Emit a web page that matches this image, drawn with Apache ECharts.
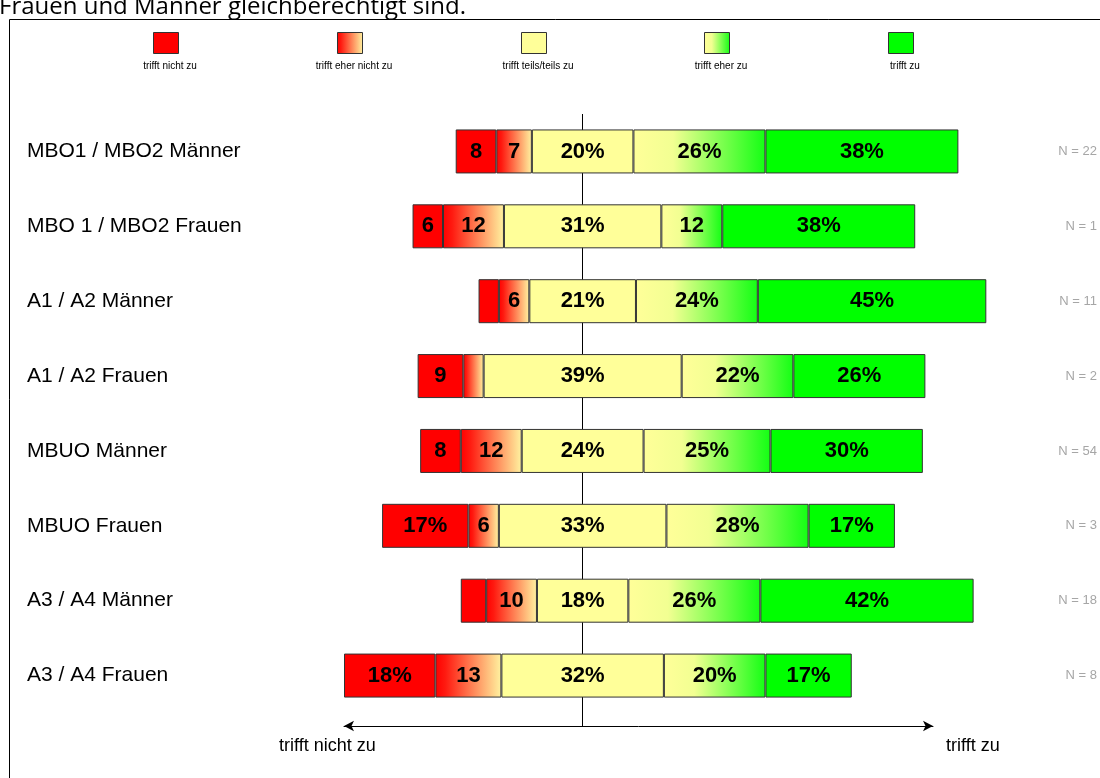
<!DOCTYPE html>
<html>
<head>
<meta charset="utf-8">
<script src="https://cdn.jsdelivr.net/npm/echarts@6/dist/echarts.min.js"></script>
<style>
html,body{margin:0;padding:0;background:#fff;}
#chart{width:1100px;height:778px;}
</style>
</head>
<body>
<div id="chart"></div>
<script>
// ---- data ----
const categories = ['MBO1 / MBO2 Männer','MBO 1 / MBO2 Frauen','A1 / A2 Männer','A1 / A2 Frauen','MBUO Männer','MBUO Frauen','A3 / A4 Männer','A3 / A4 Frauen'];
const trifftNicht = [8, 6, 4, 9, 8, 17, 5, 18];
const eherNicht   = [7, 12, 6, 4, 12, 6, 10, 13];
const teils       = [20, 31, 21, 39, 24, 33, 18, 32];
const eherZu      = [26, 12, 24, 22, 25, 28, 26, 20];
const trifftZu    = [38, 38, 45, 26, 30, 17, 42, 17];
const nValues     = [22, 1, 11, 2, 54, 3, 18, 8];
const seriesNames = ['trifft nicht zu','trifft eher nicht zu','trifft teils/teils zu','trifft eher zu','trifft zu'];
const axisEndLabels = ['trifft nicht zu','trifft zu'];
const chartTitle = 'Frauen und Männer gleichberechtigt sind.';

// ---- layout ----
const CENTER = 47;      // axis value where the neutral midpoint sits
const X_MAX = 116;
const G = echarts.graphic;
const colors = [
  '#FF0000',
  new G.LinearGradient(0,0,1,0,[{offset:0,color:'#FF0000'},{offset:0.15,color:'#FF1A10'},{offset:1,color:'#FFF3A0'}]),
  '#FFFF99',
  new G.LinearGradient(0,0,1,0,[{offset:0,color:'#FFFF99'},{offset:0.3,color:'#F2FF92'},{offset:1,color:'#14FF14'}]),
  '#00FF00'
];
const valueSets = [trifftNicht, eherNicht, teils, eherZu, trifftZu];
const offsets = categories.map((c,i)=> CENTER - (trifftNicht[i] + eherNicht[i] + teils[i]/2));

function fmt(p){
  const v = p.value;
  if (v <= 5) return '';
  if (v < 15) return String(v);
  return v + '%';
}

const series = [{
  name: '_offset', type: 'bar', stack: 'total', data: offsets, barWidth: 44,
  itemStyle: {color: 'rgba(0,0,0,0)', borderWidth: 0}, silent: true, clip: false,
  label: {show: false}, emphasis: {disabled: true}
}];
seriesNames.forEach((n, k) => {
  series.push({
    name: n, type: 'bar', stack: 'total', data: valueSets[k], barWidth: 44, clip: false,
    itemStyle: {color: colors[k], borderColor: '#333', borderWidth: 1},
    label: {show: true, position: 'inside', formatter: fmt, color: '#000', fontWeight: 'bold',
            fontSize: 22, fontFamily: 'Liberation Sans, Arial, sans-serif'},
    emphasis: {disabled: true}
  });
});

const legendCenters = [165, 349, 533, 716, 900];
const legends = seriesNames.map((n, k) => ({
  data: [n], left: legendCenters[k] - 12, top: 32, padding: 0, icon: 'rect', itemWidth: 25, itemHeight: 21,
  formatter: () => '', selectedMode: false,
  itemStyle: {borderColor: '#333', borderWidth: 1}
}));
const titles = [{
  text: chartTitle, left: -6, top: -10,
  textStyle: {fontSize: 24, fontWeight: 'normal', color: '#000', fontFamily: 'Open Sans, Liberation Sans, sans-serif'}
}].concat(seriesNames.map((n, k) => ({
  text: n, left: legendCenters[k], top: 56, textAlign: 'center',
  textStyle: {fontSize: 10, fontWeight: 'normal', color: '#000', fontFamily: 'Liberation Sans, Arial, sans-serif'}
}))).concat([
  {text: axisEndLabels[0], left: 274, top: 732, textStyle: {fontSize: 18, fontWeight: 'normal', color: '#000', fontFamily: 'Liberation Sans, sans-serif'}},
  {text: axisEndLabels[1], left: 941, top: 732, textStyle: {fontSize: 18, fontWeight: 'normal', color: '#000', fontFamily: 'Liberation Sans, sans-serif'}}
]);

const chart = echarts.init(document.getElementById('chart'), null, {renderer: 'canvas'});
chart.setOption({
  animation: false,
  backgroundColor: '#fff',
  title: titles,
  legend: legends,
  graphic: [{
    type: 'rect', shape: {x: 9.5, y: 19.5, width: 1200, height: 900},
    style: {fill: 'none', stroke: '#000', lineWidth: 1}, silent: true, z: -10
  }],
  grid: {left: 344, top: 114, width: 590, height: 599, containLabel: false},
  xAxis: {
    type: 'value', min: 0, max: X_MAX, position: 'bottom', offset: 13,
    splitLine: {show: false},
    axisLabel: {show: false},
    axisLine: {show: true, lineStyle: {color: '#000', width: 1}, symbol: ['arrow', 'arrow'], symbolSize: [8, 10]},
    axisTick: {show: true, inside: true, length: 612, customValues: [CENTER], lineStyle: {color: '#000', width: 1}}
  },
  yAxis: [{
    type: 'category', data: categories, inverse: true,
    axisLine: {show: false}, axisTick: {show: false}, splitLine: {show: false},
    axisLabel: {align: 'left', margin: 317, fontSize: 21, color: '#000', fontFamily: 'Liberation Sans, Arial, sans-serif'}
  }, {
    type: 'category', data: categories, inverse: true, position: 'right',
    axisLine: {show: false}, axisTick: {show: false}, splitLine: {show: false},
    axisLabel: {align: 'right', margin: 164, fontSize: 13, color: '#A6A6A6', fontFamily: 'Liberation Sans, Arial, sans-serif',
      formatter: (v, i) => 'N = ' + nValues[i]}
  }],
  series: series
});
</script>
</body>
</html>
